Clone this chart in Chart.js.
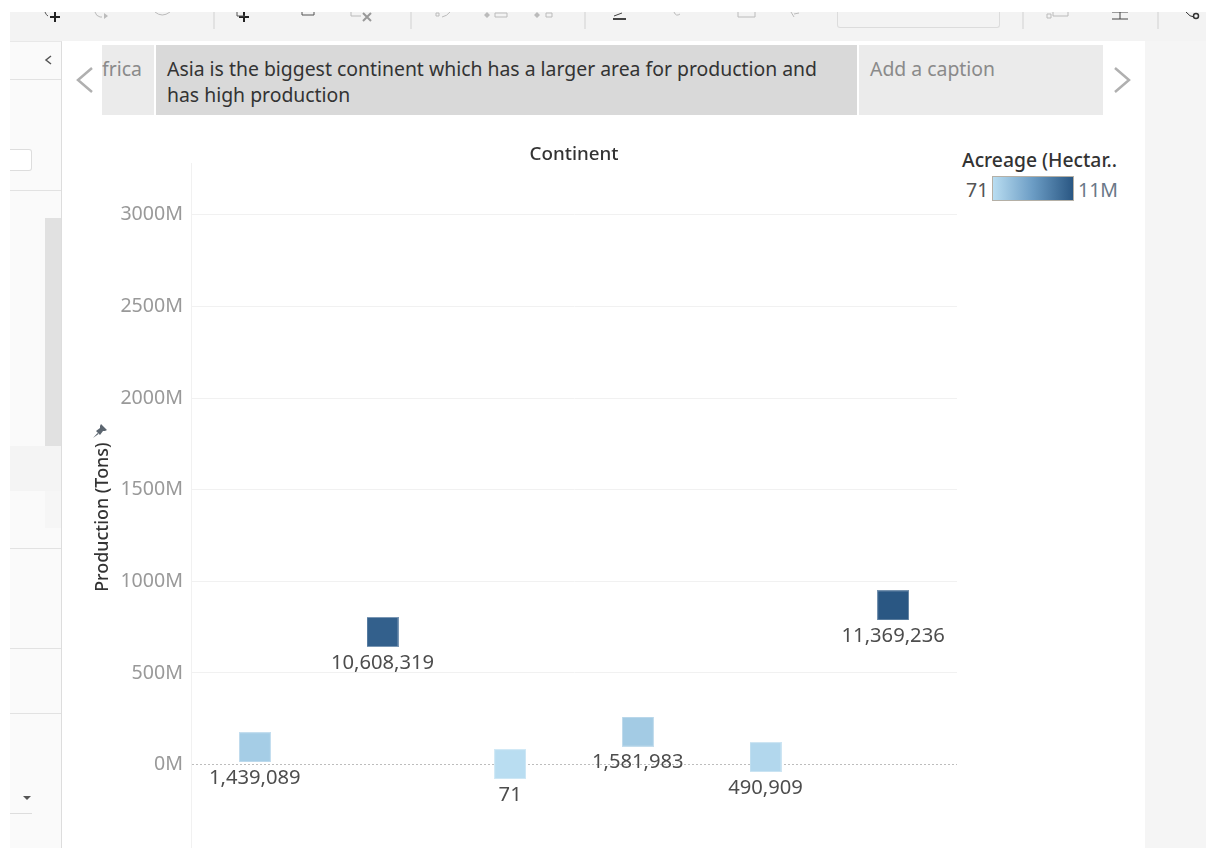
<!DOCTYPE html>
<html>
<head>
<meta charset="utf-8">
<title>Continent</title>
<script src="https://cdn.jsdelivr.net/npm/chart.js@4/dist/chart.umd.min.js"></script>
<style>
html, body { margin: 0; padding: 0; background: #fff; overflow: hidden; }
body { width: 1206px; height: 848px; position: relative; font-family: "Noto Sans", sans-serif; }
.box { position: absolute; box-sizing: border-box; }
.txt { position: absolute; white-space: nowrap; }
#chart-wrap { position: absolute; left: 62px; top: 141px; width: 900px; height: 712px; }
</style>
</head>
<body>
<!-- toolbar -->
<div class="box" style="left:10px;top:12px;width:1196px;height:29px;background:#f3f3f3"></div>
<div class="box" style="left:213px;top:12px;width:2px;height:17px;background:#e2e2e2"></div>
<div class="box" style="left:410px;top:12px;width:2px;height:17px;background:#e2e2e2"></div>
<div class="box" style="left:584px;top:12px;width:2px;height:17px;background:#e2e2e2"></div>
<div class="box" style="left:1022px;top:12px;width:2px;height:17px;background:#e2e2e2"></div>
<div class="box" style="left:1157px;top:12px;width:2px;height:17px;background:#e2e2e2"></div>
<div class="box" style="left:837px;top:12px;width:163px;height:16px;border:1px solid #dcdcdc;border-top:0;border-radius:0 0 3px 3px"></div>
<svg class="box" style="left:0;top:12px" width="1206" height="10" fill="none">
  <g stroke="#222" stroke-width="2"><path d="M50 5h10M55 0v10M239 5h10M244 0v10"/></g>
  <g stroke="#555" stroke-width="1"><path d="M45 0q1 3 3 4M237 0v4h8M302 0v3h12v-3"/></g>
  <g stroke="#bbb" stroke-width="1"><path d="M95 0q1 4 5 5h2M155 0q7 6 15 0M351 0v4h10M436 1h3v3h-3zM442 5q5-1 8-5M495 1h12v4h-12zM546 1h6v4h-6zM674 0q2 5 6 2M738 0v5h17v-5M791 0l3 5M794 2l5-1M1047 2h4v4h-4zM1053 0v4h15v-4"/></g>
  <g stroke="#999" stroke-width="2"><path d="M363 1l8 8M371 1l-8 8"/></g>
  <path d="M104 1l4 3l-4 3zM487 0l3 3l-3 3l-3-3zM537 0l3 3l-3 3l-3-3z" fill="#bbb"/>
  <path d="M613 7h13" stroke="#444" stroke-width="2"/>
  <path d="M614 4l8-3M1120 0v7M1112 7h16M1112 0h16" stroke="#444" stroke-width="1"/>
  <path d="M1186 0q4 5 8 5" stroke="#333" stroke-width="1"/>
  <circle cx="1196" cy="4" r="2.5" stroke="#333" stroke-width="1.5"/>
</svg>

<!-- left panel -->
<div class="box" style="left:10px;top:41px;width:52px;height:807px;background:#fafafa;border-right:1px solid #ddd;border-top:1px solid #e8e8e8"></div>
<div class="box" style="left:10px;top:79px;width:51px;height:1px;background:#e2e2e2"></div>
<svg class="box" style="left:44px;top:54px" width="10" height="12"><path d="M7 2 L2 6 L7 10" fill="none" stroke="#555" stroke-width="1.5"/></svg>
<div class="box" style="left:10px;top:149px;width:22px;height:22px;background:#fff;border:1px solid #ddd;border-left:0;border-radius:0 3px 3px 0"></div>
<div class="box" style="left:10px;top:190px;width:51px;height:1px;background:#e2e2e2"></div>
<div class="box" style="left:45px;top:218px;width:16px;height:232px;background:#e1e1e1"></div>
<div class="box" style="left:10px;top:446px;width:51px;height:45px;background:#f4f4f4"></div>
<div class="box" style="left:45px;top:491px;width:16px;height:37px;background:#f6f6f6"></div>
<div class="box" style="left:10px;top:548px;width:51px;height:1px;background:#e2e2e2"></div>
<div class="box" style="left:10px;top:648px;width:51px;height:1px;background:#e2e2e2"></div>
<div class="box" style="left:10px;top:713px;width:51px;height:1px;background:#e2e2e2"></div>
<div class="box" style="left:10px;top:813px;width:22px;height:1px;background:#ddd"></div>
<div class="box" style="left:23px;top:796px;width:0;height:0;border-left:4px solid transparent;border-right:4px solid transparent;border-top:4px solid #555"></div>

<!-- right margin -->
<div class="box" style="left:1145px;top:41px;width:61px;height:807px;background:#f5f5f5"></div>

<!-- captions -->
<div class="box" style="left:102px;top:45px;width:52px;height:70px;background:#ebebeb;overflow:hidden">
  <div class="txt" style="left:0;top:10px;font-size:19.4px;color:#8a8a8a">frica</div>
</div>
<div class="box" style="left:156px;top:45px;width:701px;height:70px;background:#d9d9d9">
  <div class="txt" style="left:11px;top:11px;font-size:19.4px;line-height:25.5px;color:#333">Asia is the biggest continent which has a larger area for production and<br>has high production</div>
</div>
<div class="box" style="left:859px;top:45px;width:244px;height:70px;background:#ebebeb">
  <div class="txt" style="left:11px;top:10px;font-size:19.4px;color:#8a8a8a">Add a caption</div>
</div>
<svg class="box" style="left:74px;top:66px" width="22" height="28"><path d="M18 2 L4 14 L18 26" fill="none" stroke="#b0b0b0" stroke-width="2.5"/></svg>
<svg class="box" style="left:1111px;top:66px" width="22" height="28"><path d="M4 2 L18 14 L4 26" fill="none" stroke="#b0b0b0" stroke-width="2.5"/></svg>

<!-- colour legend -->
<div class="txt" style="left:962px;top:146px;font-size:19.3px;font-weight:500;color:#333">Acreage (Hectar..</div>
<div class="txt" style="left:966px;top:176px;font-size:19.5px;color:#555">71</div>
<div class="box" style="left:992px;top:176px;width:82px;height:25px;border:1px solid #b5b0a6;background:linear-gradient(to right,#b9ddf1,#6b9cc4 50%,#2a5783)"></div>
<div class="txt" style="left:1078px;top:176px;font-size:19.5px;color:#6a7888">11M</div>

<!-- pin next to the axis title -->
<svg class="box" style="left:92px;top:424px" width="15" height="15" viewBox="0 0 15 15"><path d="M9 0 L15 6 L13 7 L11 7 L8 11 L4 7 L8 4 L8 2 Z M5.5 9 L1 14 L6.5 10 Z" fill="#5c6670"/></svg>

<div id="chart-wrap"><canvas id="chart"></canvas></div>

<script>
var continents = ['Africa', 'Asia', 'Central America', 'Europe', 'North America', 'South America'];
// millions of tons
var production = [95, 724, 3, 180, 41, 869];
// hectares, these are the labels under the marks
var acreage = [1439089, 10608319, 71, 1581983, 490909, 11369236];
var tickValues = [0, 500, 1000, 1500, 2000, 2500, 3000];
var colorStops = [[185, 221, 241], [107, 156, 196], [42, 87, 131]];

function acreageColor(v) {
  var t = v / 11369236 * 2;
  var i = t >= 1 ? 1 : 0;
  var f = t - i;
  var a = colorStops[i], b = colorStops[i + 1];
  return 'rgb(' + a.map(function (c, k) { return Math.round(c + (b[k] - c) * f); }).join(',') + ')';
}

// tableau marks are a bit wider than tall, so use a small canvas as the point style
function squareMark(color) {
  var c = document.createElement('canvas');
  c.width = 32;
  c.height = 30;
  var g = c.getContext('2d');
  g.fillStyle = color;
  g.fillRect(0, 0, 32, 30);
  g.strokeStyle = 'rgba(255,255,255,0.35)';
  g.strokeRect(0.5, 0.5, 31, 29);
  return c;
}

var markLabels = {
  id: 'markLabels',
  afterDatasetsDraw: function (chart) {
    var ctx = chart.ctx;
    var pts = chart.getDatasetMeta(0).data;
    ctx.save();
    ctx.font = '20.2px "Noto Sans"';
    ctx.fillStyle = '#4d4d4d';
    ctx.textAlign = 'center';
    ctx.textBaseline = 'middle';
    pts.forEach(function (p, i) {
      ctx.fillText(acreage[i].toLocaleString('en-US'), p.x, p.y + 31);
    });
    ctx.restore();
  }
};

var config = {
  type: 'line',
  data: {
    labels: continents,
    datasets: [{
      data: production,
      showLine: false,
      pointStyle: acreage.map(function (v) { return squareMark(acreageColor(v)); })
    }]
  },
  plugins: [markLabels],
  options: {
    responsive: true,
    maintainAspectRatio: false,
    animation: false,
    plugins: {
      legend: { display: false },
      tooltip: { enabled: false }
    },
    scales: {
      x: {
        position: 'top',
        offset: true,
        grid: { display: false },
        border: { display: false },
        ticks: { display: false },
        title: {
          display: true,
          text: 'Continent',
          color: '#333',
          font: { family: 'Noto Sans', size: 18.8, weight: '500' },
          padding: { top: 2, bottom: 0 }
        },
        afterFit: function (scale) {
          scale.height = 22;
          scale.paddingLeft = scale.paddingRight = 0;
        }
      },
      y: {
        min: -455,
        max: 3283,
        afterBuildTicks: function (scale) {
          scale.ticks = tickValues.map(function (v) { return { value: v }; });
        },
        grid: {
          drawTicks: false,
          color: function (c) { return c.tick && c.tick.value === 0 ? '#bdbdbd' : '#f1f1f1'; }
        },
        border: {
          color: '#f1f1f1',
          dash: function (c) { return c.tick && c.tick.value === 0 ? [2, 2] : []; }
        },
        ticks: {
          color: '#999',
          padding: 8,
          font: { family: 'Noto Sans', size: 19.6 },
          callback: function (v) { return v + 'M'; }
        },
        title: {
          display: true,
          text: 'Production (Tons)\u00a0\u00a0\u00a0\u00a0\u00a0',
          color: '#333',
          font: { family: 'Noto Sans', size: 17.9, weight: '500' },
          padding: { top: 30, bottom: 0 }
        },
        afterFit: function (scale) {
          scale.width = 129;
          scale.paddingTop = scale.paddingBottom = 0;
        }
      }
    }
  }
};

window.onload = function () {
  window.myChart = new Chart(document.getElementById('chart').getContext('2d'), config);
};
</script>
</body>
</html>
